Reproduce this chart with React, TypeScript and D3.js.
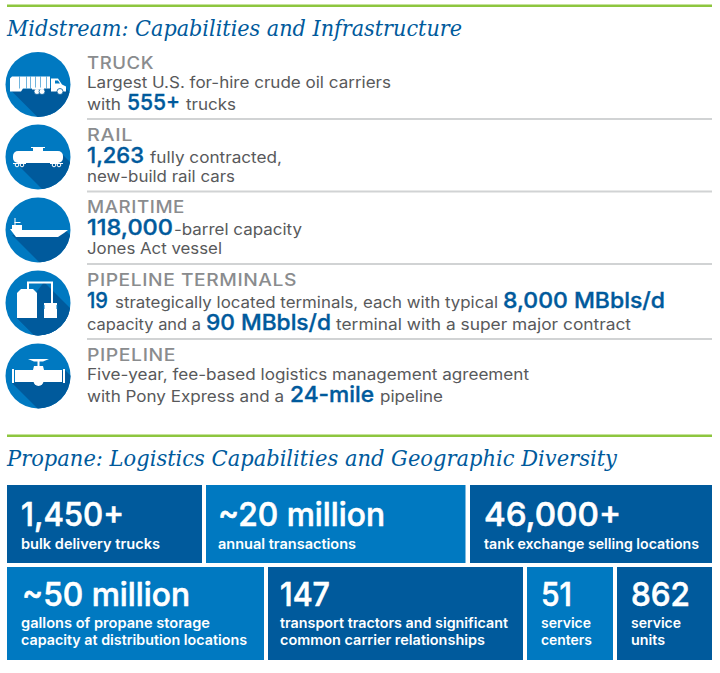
import React from "react";
import * as d3 from "d3";

const LIGHT = "#0079c1";
const DARK = "#005a9c";
const GREEN = "#8dc63f";
const HEAD = "#8a8c8e";
const BODY = "#58595b";
const RULE = "#d1d3d4";
const SANS = "Inter, 'Open Sans', sans-serif";
const SERIF = "'DejaVu Serif', serif";

const sectionTitles = [
  "Midstream: Capabilities and Infrastructure",
  "Propane: Logistics Capabilities and Geographic Diversity",
];
const categories = ["TRUCK", "RAIL", "MARITIME", "PIPELINE TERMINALS", "PIPELINE"];
const categoryLines = [
  [[["Largest U.S. for-hire crude oil carriers", 0]], [["with", 0], ["555+", 1], ["trucks", 0]]],
  [[["1,263", 1], ["fully contracted,", 0]], [["new-build rail cars", 0]]],
  [[["118,000", 1], ["-barrel capacity", 0]], [["Jones Act vessel", 0]]],
  [
    [["19", 1], ["strategically located terminals, each with typical", 0], ["8,000 MBbls/d", 1]],
    [["capacity and a", 0], ["90 MBbls/d", 1], ["terminal with a super major contract", 0]],
  ],
  [
    [["Five-year, fee-based logistics management agreement", 0]],
    [["with Pony Express and a", 0], ["24-mile", 1], ["pipeline", 0]],
  ],
] as [string, number][][][];

const statValues = ["1,450+", "~20 million", "46,000+", "~50 million", "147", "51", "862"];
const statLabels = [
  ["bulk delivery trucks"],
  ["annual transactions"],
  ["tank exchange selling locations"],
  ["gallons of propane storage", "capacity at distribution locations"],
  ["transport tractors and significant", "common carrier relationships"],
  ["service", "centers"],
  ["service", "units"],
];

// ---- layout (pixel geometry, kept apart from the content above)
const headWidths = [67, 46, 98, 210, 89];
const headBase = [69, 141, 213, 286, 361];
const lineBase = [[88, 110], [163, 182], [235, 254], [308, 330], [380, 402]];
const circleCy = [84.5, 157, 230, 303, 376];
const ruleY = [119, 191.5, 264, 339];
const runSpans = [
  [[[87, 391]], [[87, 121], [127, 180], [186, 236]]],
  [[[87, 144], [150, 282]], [[87, 235]]],
  [[[87, 173], [174, 302]], [[87, 222]]],
  [[[87, 108], [115, 498], [503, 665]], [[87, 201], [206, 331], [336, 631]]],
  [[[87, 529]], [[87, 284], [290, 374], [380, 443]]],
];
const boxes = [
  { x0: 7, x1: 202, y0: 485, y1: 563, c: DARK, tx: 21, vw: 103, lw: [139] },
  { x0: 206, x1: 465.5, y0: 485, y1: 563, c: LIGHT, tx: 218, vw: 167, lw: [138] },
  { x0: 470, x1: 712, y0: 485, y1: 563, c: DARK, tx: 484, vw: 137, lw: [215] },
  { x0: 7, x1: 264, y0: 567, y1: 660, c: LIGHT, tx: 22, vw: 168, lw: [189, 226] },
  { x0: 268, x1: 523, y0: 567, y1: 660, c: DARK, tx: 280, vw: 50, lw: [228, 205] },
  { x0: 527, x1: 613, y0: 567, y1: 660, c: LIGHT, tx: 541, vw: 31, lw: [50, 51] },
  { x0: 617, x1: 712, y0: 567, y1: 660, c: DARK, tx: 631, vw: 59, lw: [50, 34] },
];

function poly(pts: number[][]) {
  const p = d3.path();
  pts.forEach(([x, y], i) => (i ? p.lineTo(x, y) : p.moveTo(x, y)));
  p.closePath();
  return p.toString();
}
function disc(x: number, y: number, r: number) {
  const p = d3.path();
  p.moveTo(x + r, y);
  p.arc(x, y, r, 0, Math.PI * 2);
  p.closePath();
  return p.toString();
}
function castShadow(a: number[], b: number[]) {
  return poly([a, [a[0] + 70, a[1] + 70], [b[0] + 70, b[1] + 70], b]);
}

const TruckIcon = () => (
  <g>
    <path d={castShadow([-28, 5], [27, 3])} fill={DARK} />
    <path d={poly([[-28, -6], [-26, -8], [12, -8], [12, 4], [-15, 4], [-17, 7], [-28, 7]])} fill="#fff" />
    <path d={poly([[13, -6], [20, -6], [24, 0], [28, 2], [28, 7], [13, 7]])} fill="#fff" />
    <path d={poly([[17, -4], [20, -4], [22, -1], [17, -1]])} fill={LIGHT} />
    {[-19, -12, -8, -3, 2, 8].map((x) => (
      <rect key={x} x={x} y={-8} width={0.8} height={12} fill={LIGHT} opacity={0.7} />
    ))}
    {[-1, 4, 22].map((x) => (
      <path key={x} d={disc(x, 7, 3)} fill="#fff" stroke={DARK} strokeWidth={0.8} />
    ))}
    <rect x={-6} y={3} width={12} height={2} fill="#fff" />
  </g>
);
const RailIcon = () => (
  <g>
    <path d={castShadow([-25, 3], [25, -2])} fill={DARK} />
    <rect x={-25} y={-6} width={50} height={12} rx={5} fill="#fff" />
    <rect x={-5} y={-9} width={10} height={3} fill="#fff" />
    <rect x={-7} y={-10} width={14} height={1} fill="#fff" />
    {[-21, -16, 16, 21].map((x) => (
      <path key={x} d={disc(x, 8, 1.8)} fill="none" stroke="#fff" strokeWidth={1} />
    ))}
    <rect x={-25} y={6} width={13} height={1} fill="#fff" />
    <rect x={12} y={6} width={13} height={1} fill="#fff" />
  </g>
);
const ShipIcon = () => (
  <g>
    <path d={castShadow([-26, 5], [28, 1])} fill={DARK} />
    <path d={poly([[-28, -1], [-16, -1], [-16, 0], [30, 0], [26, 3], [20, 7], [-22, 7]])} fill="#fff" />
    <rect x={-26} y={-5} width={10} height={5} fill="#fff" />
    <rect x={-23.5} y={-12} width={1} height={7} fill="#fff" />
    <rect x={-23.5} y={-8} width={6} height={1} fill="#fff" />
  </g>
);
const TerminalIcon = () => (
  <g>
    <path d={castShadow([-21, 15], [6, -21])} fill={DARK} />
    <path d={castShadow([-21, 15], [19, -5])} fill={DARK} />
    <path d={poly([[-21, -10], [-17, -14], [-5, -14], [-1, -10], [-1, 15], [-21, 15]])} fill="#fff" />
    <path d="M-10 -14 V-20.5 H14 V0" fill="none" stroke="#fff" strokeWidth={2} />
    <rect x={6} y={0} width={13} height={15} fill="#fff" />
    <rect x={5.5} y={2} width={1} height={4} fill={LIGHT} />
    <rect x={18.5} y={2} width={1} height={4} fill={LIGHT} />
  </g>
);
const PipeIcon = () => (
  <g>
    <path d={castShadow([-26, 7], [27, -6])} fill={DARK} />
    <rect x={-26} y={-7} width={2} height={14} fill="#fff" />
    <rect x={25} y={-7} width={2} height={14} fill="#fff" />
    <rect x={-23} y={-6} width={47} height={12} fill="#fff" />
    <path d={disc(0.5, 5, 5)} fill="#fff" />
    <path d={poly([[-5, -6], [-4, -10], [5, -10], [6, -6]])} fill="#fff" />
    <rect x={-0.5} y={-16} width={2} height={6} fill="#fff" />
    <path d={poly([[-10, -17], [11, -17], [5, -14.5], [-4, -14.5]])} fill="#fff" />
  </g>
);
const icons = [TruckIcon, RailIcon, ShipIcon, TerminalIcon, PipeIcon];

const Fit = ({ x, y, w, size, weight, fill, family = SANS, italic, spacing, thick, children }: any) => (
  <text
    x={x}
    y={y}
    fontFamily={family}
    fontSize={size}
    fontWeight={weight}
    fontStyle={italic ? "italic" : undefined}
    letterSpacing={spacing}
    fill={fill}
    stroke={thick ? fill : undefined}
    strokeWidth={thick || undefined}
    textLength={w}
    lengthAdjust="spacingAndGlyphs"
  >
    {children}
  </text>
);

export default function App() {
  const R = 32.5;
  return (
    <svg
      width={720}
      height={673}
      viewBox="0 0 720 673"
      style={{ position: "absolute", left: 0, top: 0, background: "#fff" }}
    >
      <defs>
        <clipPath id="circ">
          <circle r={R} />
        </clipPath>
      </defs>
      <rect x={7} y={4.5} width={705} height={2.5} fill={GREEN} />
      <rect x={7} y={434.5} width={705} height={2.5} fill={GREEN} />
      <Fit x={7} y={36} w={455} size={22} fill={DARK} family={SERIF} italic>
        {sectionTitles[0]}
      </Fit>
      <Fit x={7} y={466} w={610} size={22} fill={DARK} family={SERIF} italic>
        {sectionTitles[1]}
      </Fit>

      {categories.map((name, i) => {
        const Icon = icons[i];
        return (
          <g key={name}>
            <g transform={`translate(38,${circleCy[i]})`}>
              <circle r={R} fill={LIGHT} />
              <g clipPath="url(#circ)">
                <Icon />
              </g>
            </g>
            <Fit x={87} y={headBase[i]} w={headWidths[i]} size={17} weight={500} fill={HEAD} spacing={0.5}>
              {name}
            </Fit>
            {categoryLines[i].map((line, l) =>
              line.map(([t, big], r) => (
                <Fit
                  key={`${l}-${r}`}
                  x={runSpans[i][l][r][0]}
                  y={lineBase[i][l]}
                  w={runSpans[i][l][r][1] - runSpans[i][l][r][0]}
                  size={big ? 21.5 : 15.5}
                  weight={big ? 500 : 400}
                  thick={big ? 0.35 : 0}
                  fill={big ? DARK : BODY}
                >
                  {t}
                </Fit>
              ))
            )}
          </g>
        );
      })}
      {ruleY.map((y) => (
        <rect key={y} x={87} y={y - 1} width={625} height={2} fill={RULE} />
      ))}

      {statValues.map((v, i) => {
        const b = boxes[i];
        const tall = b.y1 - b.y0 > 80;
        const vy = tall ? 606 : 526;
        const ly = tall ? [628, 645] : [549];
        return (
          <g key={i}>
            <rect x={b.x0} y={b.y0} width={b.x1 - b.x0} height={b.y1 - b.y0} fill={b.c} />
            <Fit x={b.tx} y={vy} w={b.vw} size={33} weight={500} thick={0.6} fill="#fff">
              {v}
            </Fit>
            {statLabels[i].map((t, k) => (
              <Fit
                key={k}
                x={i === 3 ? 21 : b.tx}
                y={ly[k]}
                w={b.lw[k]}
                size={14}
                weight={600}
                fill="#fff"
              >
                {t}
              </Fit>
            ))}
          </g>
        );
      })}
    </svg>
  );
}
